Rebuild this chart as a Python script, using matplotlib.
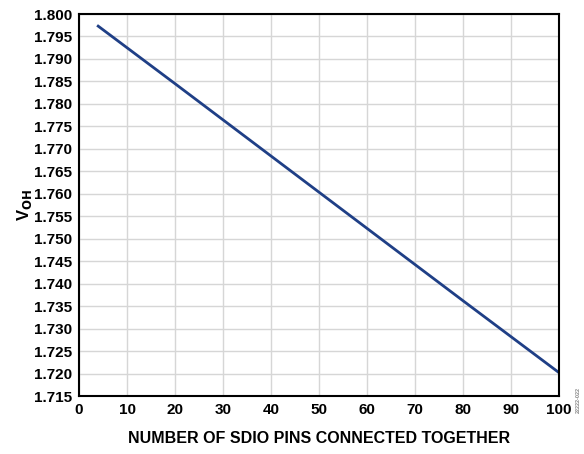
import matplotlib
matplotlib.use("Agg")
import matplotlib.pyplot as plt

pins = [4, 20, 40, 60, 80, 100]
voh = [1.7973, 1.7845, 1.7684, 1.7523, 1.7362, 1.7202]
xticks = list(range(0, 101, 10))
yticks = [1.715 + 0.005 * i for i in range(18)]

plt.rcParams['font.family'] = ['Liberation Sans', 'DejaVu Sans']
plt.rcParams['font.weight'] = 'bold'

fig = plt.figure(figsize=(5.84, 4.54), dpi=100)
ax = fig.add_axes([79/584, 1 - 396/454, 480/584, 382/454])
ax.plot(pins, voh, color='#1f3f86', lw=2)
ax.set_xlim(0, 100)
ax.set_ylim(1.715, 1.800)
ax.set_xticks(xticks)
ax.set_yticks(yticks)
ax.set_yticklabels([f"{v:.3f}" for v in yticks])
ax.tick_params(length=0, labelsize=11, pad=5)
for lab in ax.get_xticklabels() + ax.get_yticklabels():
    lab.set_fontweight('bold')
ax.grid(True, color='#d6d6d6', lw=1)
ax.set_axisbelow(True)
for s in ax.spines.values():
    s.set_linewidth(1.5)
ax.set_xlabel('NUMBER OF SDIO PINS CONNECTED TOGETHER', fontsize=11.5, fontweight='bold', labelpad=10)
ax.set_ylabel('V$_{\\mathbf{OH}}$', fontsize=12, fontweight='bold', labelpad=0)
fig.text(578/584, 1 - 400/454, '22222-022', rotation=90, fontsize=4, color='#888888', ha='center', va='center')
fig.savefig('out.png', dpi=100)
